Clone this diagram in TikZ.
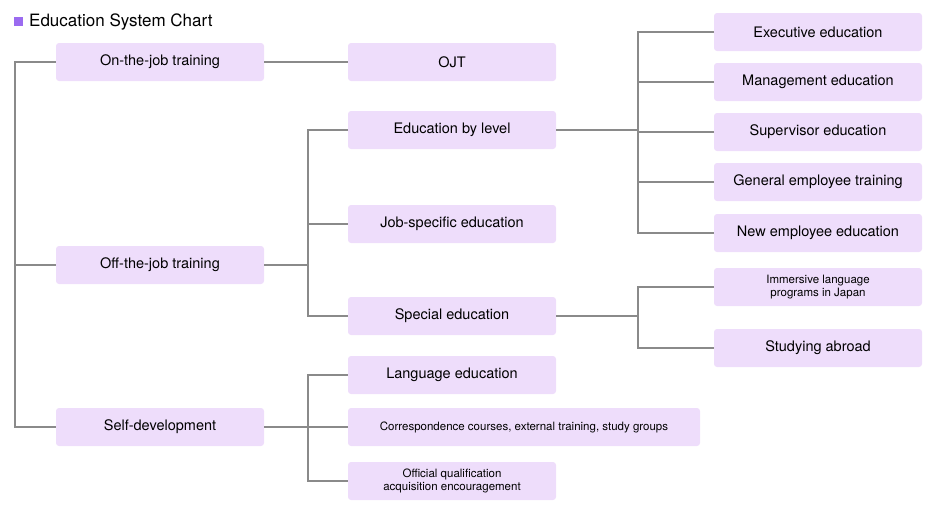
\documentclass[tikz,border=0pt]{standalone}
\usepackage{fontspec}
\setmainfont{TeX Gyre Heros}
\definecolor{boxfill}{HTML}{EEDDFB}
\definecolor{linec}{HTML}{8A8A8A}
\definecolor{sq}{HTML}{9B6BF0}
\begin{document}
\begin{tikzpicture}[x=1pt,y=-1pt,
  bx/.style={fill=boxfill,rounded corners=3pt,inner sep=0pt,font=\fontsize{14.5}{16}\selectfont,align=center},
  sm/.style={font=\fontsize{11.5}{13}\selectfont},
  ln/.style={draw=linec,line width=1.2pt}]
\useasboundingbox (0,0) rectangle (934,515);
\fill[sq] (14,17) rectangle (23,26);
\node[anchor=west,font=\fontsize{17}{19}\selectfont,inner sep=0pt] (title) at (29,22) {Education System Chart};
\newcommand\bxat[6]{\node[bx,#6,minimum width=#3-#2,minimum height=38] (#1) at ({(#2+#3)/2},#4) {#5};}
\bxat{ojtr}{56}{264}{62}{On-the-job training}{}
\bxat{ojt}{348}{556}{62}{OJT}{}
\bxat{off}{56}{264}{265}{Off-the-job training}{}
\bxat{self}{56}{264}{427}{Self-development}{}
\bxat{lvl}{348}{556}{130}{Education by level}{}
\bxat{job}{348}{556}{224}{Job-specific education}{}
\bxat{spe}{348}{556}{316}{Special education}{}
\bxat{lang}{348}{556}{375}{Language education}{}
\bxat{corr}{348}{700}{427}{Correspondence courses, external training, study groups}{sm}
\bxat{off2}{348}{556}{481}{Official qualification\\acquisition encouragement}{sm}
\bxat{exe}{714}{922}{32}{Executive education}{}
\bxat{man}{714}{922}{82}{Management education}{}
\bxat{sup}{714}{922}{132}{Supervisor education}{}
\bxat{gen}{714}{922}{182}{General employee training}{}
\bxat{new}{714}{922}{233}{New employee education}{}
\bxat{imm}{714}{922}{287}{Immersive language\\programs in Japan}{sm}
\bxat{stu}{714}{922}{348}{Studying abroad}{}
\coordinate (t1) at (15,0);
\coordinate (t2) at (308,0);
\coordinate (t3) at (638,0);
\draw[ln] (ojtr.west) -- (ojtr.west -| t1) -- (self.west -| t1) -- (self.west);
\draw[ln] (off.west) -- (off.west -| t1);
\draw[ln] (ojtr.east) -- (ojt.west);
\draw[ln] (off.east) -- (off.east -| t2);
\draw[ln] (lvl.west) -- (lvl.west -| t2) -- (spe.west -| t2) -- (spe.west);
\draw[ln] (job.west) -- (job.west -| t2);
\draw[ln] (self.east) -- (self.east -| t2);
\draw[ln] (lang.west) -- (lang.west -| t2) -- (off2.west -| t2) -- (off2.west);
\draw[ln] (corr.west) -- (corr.west -| t2);
\draw[ln] (lvl.east) -- (lvl.east -| t3);
\draw[ln] (exe.west) -- (exe.west -| t3) -- (new.west -| t3) -- (new.west);
\foreach \n in {man,sup,gen} \draw[ln] (\n.west) -- (\n.west -| t3);
\draw[ln] (spe.east) -- (spe.east -| t3);
\draw[ln] (imm.west) -- (imm.west -| t3) -- (stu.west -| t3) -- (stu.west);
\end{tikzpicture}
\end{document}
